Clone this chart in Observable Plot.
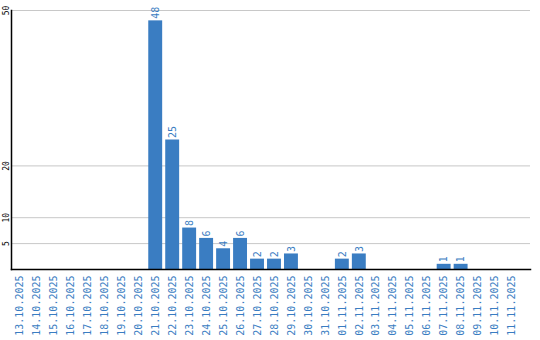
<!DOCTYPE html>
<html><head><meta charset="utf-8">
<script src="https://cdn.jsdelivr.net/npm/d3@7"></script>
<script src="https://cdn.jsdelivr.net/npm/@observablehq/plot@0.6"></script>
<style>body{margin:0;background:#fff}</style>
</head><body><div id="c"></div>
<script>
const dates = ["13.10.2025","14.10.2025","15.10.2025","16.10.2025","17.10.2025","18.10.2025","19.10.2025","20.10.2025","21.10.2025","22.10.2025","23.10.2025","24.10.2025","25.10.2025","26.10.2025","27.10.2025","28.10.2025","29.10.2025","30.10.2025","31.10.2025","01.11.2025","02.11.2025","03.11.2025","04.11.2025","05.11.2025","06.11.2025","07.11.2025","08.11.2025","09.11.2025","10.11.2025","11.11.2025"];
const counts = [0,0,0,0,0,0,0,0,48,25,8,6,4,6,2,2,3,0,0,2,3,0,0,0,0,1,1,0,0,0];
const yTicks = [5,10,20,50];
const data = dates.map((d,i)=>({date:d, value:counts[i]}));
const blue = "#3a7dc2";
const chart = Plot.plot({
  width: 540, height: 340,
  marginLeft: 11, marginRight: 10, marginTop: 10, marginBottom: 71,
  style: {fontFamily: "DejaVu Sans Mono", background: "#fff"},
  x: {domain: dates, range: [11, 520], round: false, paddingInner: 0.18, paddingOuter: 0.09, label: null},
  y: {domain: [0, 50], range: [269, 10], label: null},
  marks: [
    Plot.ruleY(yTicks, {stroke: "#c8c8c8", strokeWidth: 1}),
    Plot.barY(data, {x: "date", y: "value", fill: blue}),
    Plot.text(data.filter(d=>d.value>0), {x: "date", y: "value", text: d=>String(d.value), rotate: -90, textAnchor: "start", dy: -2, fill: blue, fontSize: 10, lineAnchor: "middle"}),
    Plot.axisX({tickRotate: -90, tickSize: 0, tickPadding: 6, fill: blue, fontSize: 10, textAnchor: "end", label: null}),
    Plot.axisY({ticks: yTicks, tickRotate: -90, tickSize: 0, tickPadding: 0, fontSize: 8, fill: "#000", textAnchor: "middle", dx: -3, label: null}),
    Plot.frame({anchor: "left", stroke: "#000", strokeWidth: 1.5}),
    Plot.frame({anchor: "bottom", stroke: "#000", strokeWidth: 1.5})
  ]
});
document.getElementById("c").append(chart);
</script></body></html>
